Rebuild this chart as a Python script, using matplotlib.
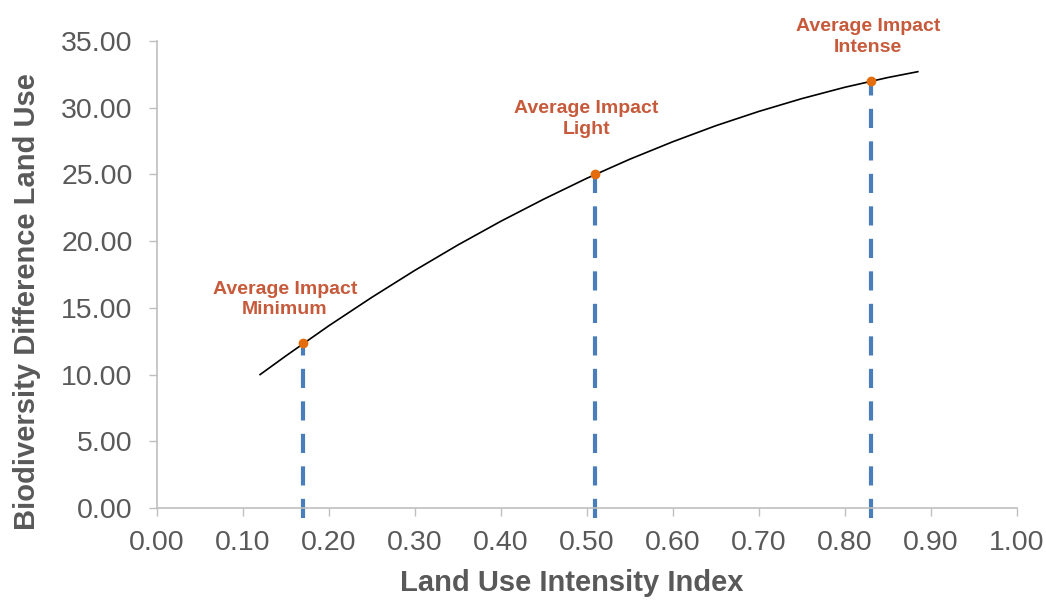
import matplotlib
matplotlib.use('Agg')
import matplotlib.pyplot as plt
from matplotlib.ticker import FormatStrFormatter

plt.rcParams['font.family'] = ['Liberation Sans', 'DejaVu Sans']

# curve
curve_x = [0.12, 0.15, 0.20, 0.25, 0.30, 0.35, 0.40, 0.45, 0.50, 0.55,
           0.60, 0.65, 0.70, 0.75, 0.80, 0.85, 0.885]
curve_y = [10.0, 11.40, 13.66, 15.79, 17.81, 19.71, 21.49, 23.15, 24.71, 26.14,
           27.45, 28.65, 29.72, 30.68, 31.53, 32.26, 32.7]

# average impact points
imp_x = [0.17, 0.51, 0.83]
imp_y = [12.4, 25.0, 32.0]
imp_labels = ['Average Impact\nMinimum', 'Average Impact\nLight', 'Average Impact\nIntense']
label_offsets = [(-13, 31), (-6.5, 40), (-2, 32)]

grey = '#595959'
axis_grey = '#BFBFBF'

fig = plt.figure(figsize=(10.46, 6.01), dpi=100)
ax = fig.add_axes([0.150, 0.1547, 0.822, 0.7771])

ax.plot(curve_x, curve_y, color='black', lw=1.2, zorder=3)

for x, y in zip(imp_x, imp_y):
    ax.plot([x, x], [-0.75, y], color='#4A7EBB', lw=3.0, dashes=(4.6, 3.2),
            clip_on=False, zorder=2)
ax.plot(imp_x, imp_y, 'o', color='#E46C0A', ms=6, zorder=4)

for x, y, t, off in zip(imp_x, imp_y, imp_labels, label_offsets):
    ax.annotate(t, (x, y), xytext=off, textcoords='offset points',
                ha='center', va='center', fontsize=14, fontweight='bold',
                color='#C65A3A', linespacing=1.3)

ax.set_xlim(0, 1.0)
ax.set_ylim(0, 35)
ax.set_xticks([i / 10 for i in range(11)])
ax.set_yticks(range(0, 36, 5))
ax.xaxis.set_major_formatter(FormatStrFormatter('%.2f'))
ax.yaxis.set_major_formatter(FormatStrFormatter('%.2f'))

for s in ['top', 'right']:
    ax.spines[s].set_visible(False)
for s in ['left', 'bottom']:
    ax.spines[s].set_color(axis_grey)
    ax.spines[s].set_linewidth(1.2)

ax.tick_params(axis='both', direction='out', length=5.5, width=1, color=axis_grey,
               labelsize=20.5, labelcolor=grey)
ax.tick_params(axis='x', pad=10)
ax.tick_params(axis='y', pad=12)

ax.set_xlabel('Land Use Intensity Index', fontsize=21, fontweight='bold', color=grey)
ax.set_ylabel('Biodiversity Difference Land Use', fontsize=21, fontweight='bold', color=grey)
ax.xaxis.set_label_coords(0.483, -0.1306)
ax.yaxis.set_label_coords(-0.135, 0.443)

fig.savefig('out.png', dpi=100)
